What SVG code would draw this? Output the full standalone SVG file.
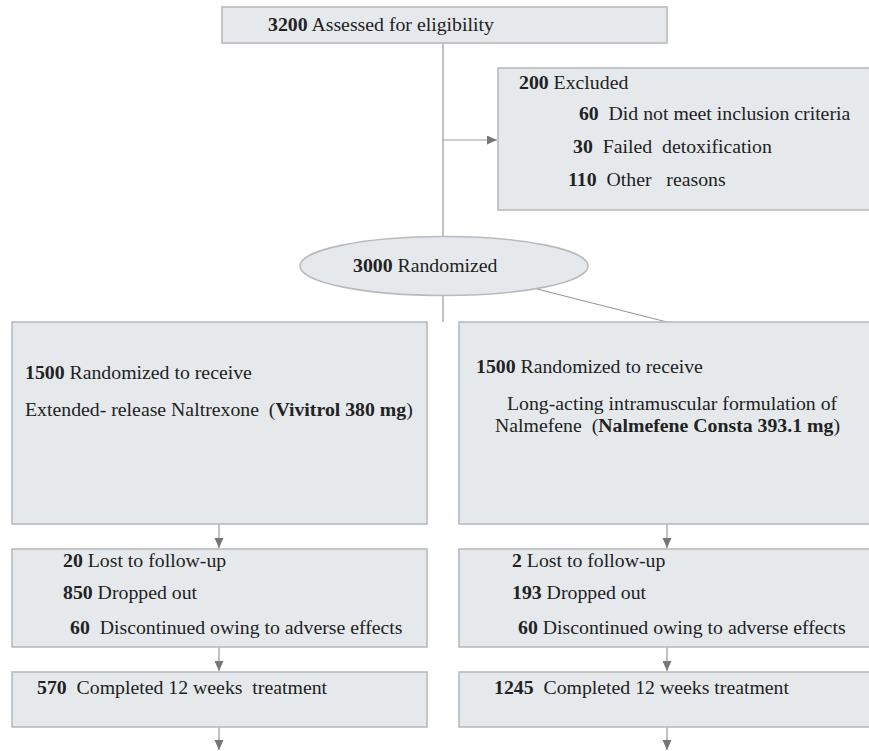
<svg xmlns="http://www.w3.org/2000/svg" width="869" height="751" viewBox="0 0 869 751">
<style>
.box{fill:#e5e9ec;stroke:#b8bbbe;stroke-width:1.6}
.t{font-family:"Liberation Serif","Times New Roman",serif;font-size:19.8px;fill:#222;white-space:pre}
.b{font-weight:bold}
.ln{stroke:#999;stroke-width:1.2;fill:none}
</style>
<defs>
<marker id="ah" markerUnits="userSpaceOnUse" markerWidth="12" markerHeight="10" refX="10" refY="4.5" orient="auto">
<path d="M0,0 L10,4.5 L0,9 Z" fill="#777"/>
</marker>
</defs>
<rect width="869" height="751" fill="#fff"/>
<g id="connectors">
<line class="ln" x1="443" y1="43" x2="443" y2="322"/>
<line class="ln" x1="443" y1="140" x2="497" y2="140" marker-end="url(#ah)"/>
<line class="ln" x1="537" y1="289" x2="667" y2="322"/>
<line class="ln" x1="219" y1="524" x2="219" y2="548" marker-end="url(#ah)"/>
<line class="ln" x1="219" y1="647" x2="219" y2="671" marker-end="url(#ah)"/>
<line class="ln" x1="219" y1="727" x2="219" y2="750" marker-end="url(#ah)"/>
<line class="ln" x1="667" y1="524" x2="667" y2="548" marker-end="url(#ah)"/>
<line class="ln" x1="667" y1="647" x2="667" y2="671" marker-end="url(#ah)"/>
<line class="ln" x1="667" y1="727" x2="667" y2="750" marker-end="url(#ah)"/>
</g>
<g id="assessed">
<rect class="box" x="222" y="7" width="445" height="36"/>
<text class="t" x="268" y="31"><tspan class="b">3200</tspan> Assessed for eligibility</text>
</g>
<g id="excluded">
<rect class="box" x="498" y="68" width="380" height="142"/>
<text class="t" x="519" y="89"><tspan class="b">200</tspan> Excluded</text>
<text class="t" x="569" y="120"><tspan class="b">  60</tspan>  Did not meet inclusion criteria</text>
<text class="t" x="573" y="153"><tspan class="b">30</tspan>  Failed  detoxification</text>
<text class="t" x="568" y="186"><tspan class="b">110</tspan>  Other   reasons</text>
</g>
<g id="randomized">
<ellipse cx="444" cy="266" rx="144" ry="29.5" fill="#e5e9ec" stroke="#b8bbbe" stroke-width="1.6"/>
<text class="t" x="353" y="272"><tspan class="b">3000</tspan> Randomized</text>
</g>
<g id="arm-vivitrol">
<rect class="box" x="12" y="322" width="415" height="202"/>
<text class="t" x="25" y="379"><tspan class="b">1500</tspan> Randomized to receive</text>
<text class="t" x="25" y="416">Extended- release Naltrexone  (<tspan class="b">Vivitrol 380 mg</tspan>)</text>
</g>
<g id="arm-nalmefene">
<rect class="box" x="459" y="322" width="420" height="202"/>
<text class="t" x="476" y="373"><tspan class="b">1500</tspan> Randomized to receive</text>
<text class="t" x="507" y="410">Long-acting intramuscular formulation of</text>
<text class="t" x="495" y="432">Nalmefene  (<tspan class="b">Nalmefene Consta 393.1 mg</tspan>)</text>
</g>
<g id="lost-vivitrol">
<rect class="box" x="12" y="549" width="415" height="98"/>
<text class="t" x="63" y="567"><tspan class="b">20</tspan> Lost to follow-up</text>
<text class="t" x="63" y="599"><tspan class="b">850</tspan> Dropped out</text>
<text class="t" x="70" y="634"><tspan class="b">60</tspan>  Discontinued owing to adverse effects</text>
</g>
<g id="lost-nalmefene">
<rect class="box" x="459" y="549" width="420" height="98"/>
<text class="t" x="512" y="567"><tspan class="b">2</tspan> Lost to follow-up</text>
<text class="t" x="512" y="599"><tspan class="b">193</tspan> Dropped out</text>
<text class="t" x="518" y="634"><tspan class="b">60</tspan> Discontinued owing to adverse effects</text>
</g>
<g id="completed-vivitrol">
<rect class="box" x="12" y="672" width="415" height="55"/>
<text class="t" x="37" y="694"><tspan class="b">570</tspan>  Completed 12 weeks  treatment</text>
</g>
<g id="completed-nalmefene">
<rect class="box" x="459" y="672" width="420" height="55"/>
<text class="t" x="494" y="694"><tspan class="b">1245</tspan>  Completed 12 weeks treatment</text>
</g>
</svg>
